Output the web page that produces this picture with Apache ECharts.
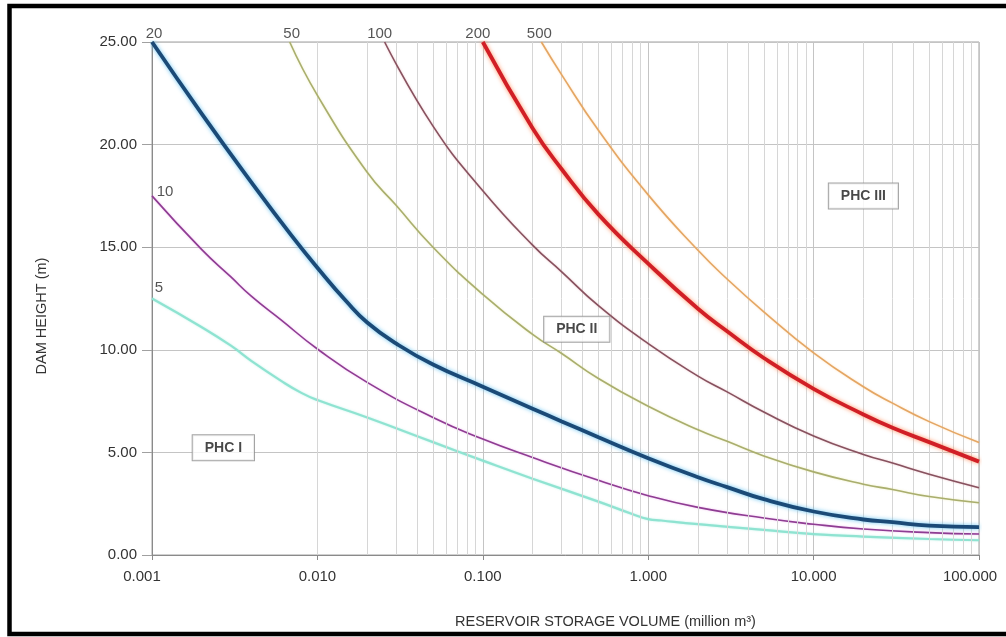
<!DOCTYPE html>
<html><head><meta charset="utf-8">
<script src="https://cdn.jsdelivr.net/npm/echarts@6/dist/echarts.min.js"></script>
<style>html,body{margin:0;padding:0;background:#fff}#c{width:1006px;height:637px}</style>
</head><body><div id="c"></div>
<script>
// ---- data (x = million m3, y = dam height m) ----
const curve5 = [[0.001,12.5],[0.002,11.1],[0.003,10.2],[0.004,9.45],[0.006,8.5],[0.008,7.9],[0.01,7.55],[0.02,6.7],[0.05,5.5],[0.1,4.6],[0.2,3.72],[0.5,2.6],[0.8,2.0],[1,1.75],[1.2,1.68],[2,1.5],[5,1.22],[10,1.02],[20,0.9],[50,0.78],[100,0.72]];
const curve10 = [[0.001,17.5],[0.002,14.88],[0.003,13.55],[0.004,12.6],[0.006,11.47],[0.01,10.04],[0.02,8.41],[0.05,6.7],[0.1,5.65],[0.2,4.75],[0.5,3.64],[1,2.89],[2,2.32],[5,1.8],[10,1.5],[20,1.27],[50,1.09],[100,1.02]];
const curve20 = [[0.001,25],[0.002,21.5],[0.004,18.15],[0.007,15.55],[0.01,14.0],[0.015,12.35],[0.02,11.33],[0.03,10.3],[0.05,9.28],[0.1,8.2],[0.2,7.13],[0.3,6.51],[0.5,5.74],[1,4.72],[2,3.79],[3,3.31],[5,2.72],[10,2.12],[20,1.73],[30,1.6],[50,1.43],[100,1.36]];
const curve50 = [[0.0068,25],[0.01,22.4],[0.02,18.65],[0.03,17.03],[0.05,15.0],[0.1,12.7],[0.2,10.75],[0.3,9.82],[0.5,8.6],[1,7.25],[2,6.1],[3,5.54],[5,4.83],[10,4.05],[20,3.45],[30,3.19],[50,2.85],[100,2.55]];
const curve100 = [[0.0255,25],[0.05,20.9],[0.1,17.75],[0.2,15.1],[0.3,13.8],[0.5,12.15],[1,10.3],[2,8.72],[3,7.95],[5,6.97],[10,5.8],[20,4.9],[30,4.48],[50,3.94],[100,3.28]];
const curve200 = [[0.1,25],[0.2,20.8],[0.3,18.8],[0.5,16.6],[1,14.2],[2,12.0],[3,10.9],[5,9.6],[10,8.1],[20,6.85],[30,6.2],[50,5.5],[100,4.55]];
const curve500 = [[0.226,25],[0.3,23.4],[0.5,20.7],[1,17.55],[2,14.85],[3,13.45],[5,11.85],[10,9.85],[20,8.2],[30,7.4],[50,6.5],[100,5.48]];
const curveNames = ['5','10','20','50','100','200','500'];
const minorGridValues = [0.002,0.003,0.004,0.005,0.006,0.007,0.008,0.009,
  0.02,0.03,0.04,0.05,0.06,0.07,0.08,0.09,
  0.2,0.3,0.4,0.5,0.6,0.7,0.8,0.9,
  2,3,4,5,6,7,8,9,
  20,30,40,50,60,70,80,90];
const zoneNames = ['PHC I','PHC II','PHC III'];
const zonePositions = [[0.0027,5.23],[0.37,11.0],[20,17.5]];
const xAxisName = 'RESERVOIR STORAGE VOLUME (million m\u00B3)';
const yAxisName = 'DAM HEIGHT (m)';

// ---- styles ----
const curves = [curve5, curve10, curve20, curve50, curve100, curve200, curve500];
const colors = ['#8fe3d1','#8e3d92','#1b4a77','#a9ae6e','#87525f','#d11f26','#e4a664'];
const widths = [2.2,1.6,3.8,1.6,1.6,3.8,1.6];
const glows = ['rgba(120,230,210,0.5)','rgba(230,120,230,0.5)','rgba(90,190,240,0.9)','rgba(220,220,120,0.5)','rgba(220,140,150,0.5)','rgba(255,120,60,0.8)','rgba(255,190,110,0.5)'];
const labelOffsets = [[7,2],[13,9],[2,5],[2,5],[-5,5],[-5,5],[-2,5]];
const FONT = '"Liberation Sans", Arial, Helvetica, sans-serif';

const chart = echarts.init(document.getElementById('c'), null, {renderer:'canvas'});

const series = [];
series.push({
  type:'line', name:'grid', data:[], z:1, silent:true,
  markLine:{silent:true, symbol:'none', animation:false,
    label:{show:false},
    lineStyle:{color:'#d6d6d6', width:1, type:'solid'},
    data: minorGridValues.map(v=>({xAxis:v}))}
});
curves.forEach((c,i)=>{
  series.push({
    type:'line', name:curveNames[i], data:c, smooth:0.5,
    showSymbol:false, symbol:'none', z:3+i, silent:true,
    lineStyle:{color:colors[i], width:widths[i], shadowColor:glows[i], shadowBlur: widths[i]>3?4:2}
  });
});
series.push({
  type:'scatter', name:'curveLabels', symbolSize:1, z:20, silent:true,
  itemStyle:{color:'rgba(0,0,0,0)'},
  data: curves.map((c,i)=>({value:c[0], label:{show:true, position:'top', formatter:curveNames[i],
    offset:labelOffsets[i], color:'#2a2a2a', fontSize:15, fontFamily:FONT}}))
});
series.push({
  type:'scatter', name:'zones', symbolSize:1, z:30, silent:true,
  itemStyle:{color:'rgba(0,0,0,0)'},
  data: zonePositions.map((p,i)=>({value:p, label:{show:true, position:'inside', formatter:zoneNames[i],
    color:'#1a1a1a', fontSize:14, fontWeight:'bold', fontFamily:FONT,
    backgroundColor:'#fff', borderColor:'#8c8c8c', borderWidth:1, padding:[6,12,5,12]}}))
});

const xLabelStyle = {color:'#333', fontSize:15, fontFamily:FONT};
chart.setOption({
  animation:false,
  backgroundColor:'#fff',
  grid:{left:152, right:27, top:42, bottom:82, outerBoundsMode:'none', containLabel:false,
    show:true, borderColor:'#a0a0a0', borderWidth:1, backgroundColor:'transparent'},
  xAxis:{
    type:'log', logBase:10, min:0.001, max:100,
    name:xAxisName, nameLocation:'middle', nameGap:59,
    nameTextStyle:{color:'#333', fontSize:14.5, fontFamily:FONT, padding:[0,0,0,80]},
    axisLine:{show:true, lineStyle:{color:'#8a8a8a', width:1}},
    axisTick:{show:true, length:5, lineStyle:{color:'#8a8a8a'}},
    axisLabel:{color:'#333', fontSize:15, fontFamily:FONT, margin:14,
      formatter:v=>{
        const t = Number(v).toFixed(3);
        if (Number(v) <= 0.0011) return '{l|' + t + '}';
        if (Number(v) >= 99) return '{r|' + t + '}';
        return t;
      },
      rich:{
        l:Object.assign({padding:[0,20,0,0]}, xLabelStyle),
        r:Object.assign({padding:[0,18,0,0]}, xLabelStyle)
      }},
    splitLine:{show:true, lineStyle:{color:'#c4c4c4', width:1}},
    minorTick:{show:false}
  },
  yAxis:{
    type:'value', min:0, max:25, interval:5,
    name:yAxisName, nameLocation:'middle', nameGap:103,
    nameTextStyle:{color:'#333', fontSize:14.5, fontFamily:FONT, padding:[0,35,0,0]},
    axisLine:{show:true, lineStyle:{color:'#8a8a8a', width:1}},
    axisTick:{show:true, length:10, lineStyle:{color:'#a0a0a0'}},
    axisLabel:{color:'#333', fontSize:15, fontFamily:FONT, margin:15,
      formatter:v=>Number(v).toFixed(2)},
    splitLine:{show:true, lineStyle:{color:'#c4c4c4', width:1}}
  },
  graphic:[{type:'rect', silent:true, z:100,
    shape:{x:9.5, y:6, width:1020, height:628},
    style:{fill:'none', stroke:'#000', lineWidth:4.5}}],
  series: series
});
</script></body></html>
